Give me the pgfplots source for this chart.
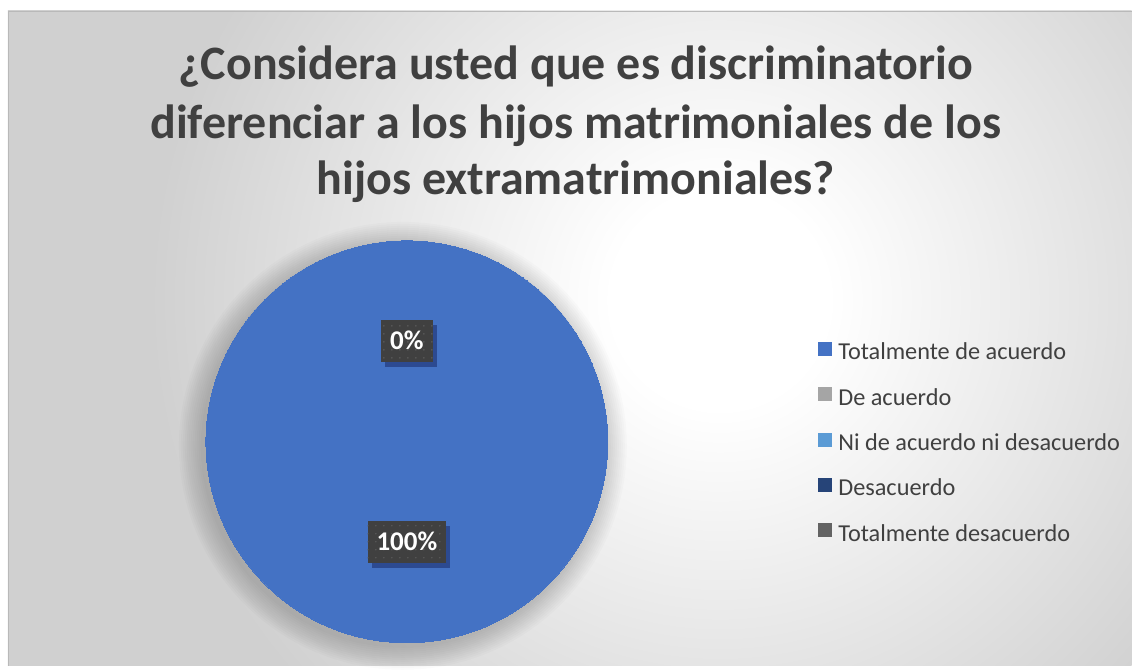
\documentclass[border=0pt]{standalone}
\usepackage{pgfplots}
\pgfplotsset{compat=1.18}
\usepackage{fontspec}
\setmainfont{Carlito}
\usetikzlibrary{shadows,patterns.meta}

\definecolor{pieblue}{HTML}{4472C4}
\definecolor{c2}{HTML}{A5A5A5}
\definecolor{c3}{HTML}{5B9BD5}
\definecolor{c4}{HTML}{264478}
\definecolor{c5}{HTML}{636363}
\definecolor{txt}{HTML}{404040}
\definecolor{bggray}{HTML}{D0D0D0}

% 25bp of the shading = half the side of the shaded square (1500 px here)
\pgfdeclareradialshading{bgshade}{\pgfpoint{0bp}{0bp}}{%
  color(0bp)=(white); color(1.8bp)=(white); color(9.5bp)=(bggray); color(50bp)=(bggray)}

\begin{document}
\begin{tikzpicture}
  % background of the chart area, pixel units, y downwards
  \begin{scope}[x=1bp,y=-1bp]
    \fill[white] (0,0) rectangle (1132,666);
    \begin{scope}
      \clip (8,11) rectangle (1132,666);
      \shade[shading=bgshade] (-780,-1200) rectangle (2220,1800);
    \end{scope}
    \draw[gray!55, line width=0.8bp] (8,666) -- (8,11) -- (1132,11);
    % soft shadow round the pie
    \foreach \r in {202,204,...,224}
      \fill[black, opacity=0.014] (403,446) circle (\r);
  \end{scope}

  \begin{axis}[
      at={(0,0)}, anchor=north west,
      scale only axis,
      width=1132bp, height=666bp,
      xmin=0, xmax=1132, ymin=0, ymax=666,
      y dir=reverse,
      axis lines=none,
      clip=false,
      legend cell align=left,
      legend image code/.code={%
        \fill[#1] (0bp,-3bp) rectangle (13bp,10bp);
      },
      legend style={
        at={(axis cs:818,341)}, anchor=north west,
        draw=none, fill=none, inner sep=0pt,
        font=\fontsize{24.3bp}{29bp}\selectfont\color{txt},
        row sep=23bp,
        /tikz/every odd column/.append style={column sep=5bp},
      },
    ]
    % 100 % of the answers: the whole pie is one slice
    \addplot[only marks, mark=*, mark size=201bp,
             mark options={draw=pieblue, line width=0pt, fill=pieblue}, forget plot]
      coordinates {(407,442)};

    % data labels
    \addplot[draw=none, mark=none, forget plot,
      point meta=explicit,
      nodes near coords={\pgfmathprintnumber[assume math mode=true]{\pgfplotspointmeta}\%},
      every node near coord/.append style={
        anchor=center, fill=txt, text=white,
        font=\fontsize{27bp}{32bp}\selectfont\bfseries,
        inner xsep=9bp, inner ysep=12bp, text height=17.5bp, text depth=0bp,
        drop shadow={shadow xshift=4bp, shadow yshift=-5bp, fill=black!80!blue, opacity=0.35},
        postaction={pattern={Dots[distance=8bp, radius=0.8bp]}, pattern color=gray!45!txt},
      },
    ] coordinates {(407,341) [0] (407,542) [100]};

    \addlegendimage{pieblue}
    \addlegendentry{Totalmente de acuerdo}
    \addlegendimage{c2}
    \addlegendentry{De acuerdo}
    \addlegendimage{c3}
    \addlegendentry{Ni de acuerdo ni desacuerdo}
    \addlegendimage{c4}
    \addlegendentry{Desacuerdo}
    \addlegendimage{c5}
    \addlegendentry{Totalmente desacuerdo}

    \begin{scope}[every node/.style={anchor=base, text=txt,
        font=\fontsize{48bp}{56bp}\selectfont\bfseries}]
      \node at (axis cs:576,80)  {¿Considera usted que es discriminatorio};
      \node at (axis cs:576,139) {diferenciar a los hijos matrimoniales de los};
      \node at (axis cs:576,195) {hijos extramatrimoniales?};
    \end{scope}
  \end{axis}
\end{tikzpicture}
\end{document}
